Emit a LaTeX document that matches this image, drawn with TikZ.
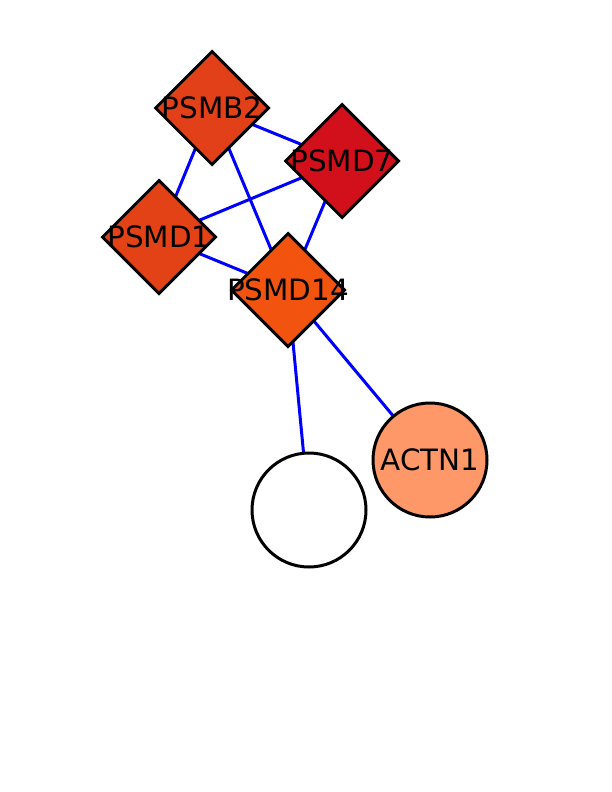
\documentclass[tikz,border=0pt]{standalone}
\usepackage{fontspec}
\setmainfont{DejaVu Sans}
\usepackage{tikz}
\usetikzlibrary{shapes}
\usetikzlibrary{positioning}
\usetikzlibrary{backgrounds}

\definecolor{psmbtwo}{RGB}{226,64,24}
\definecolor{psmdone}{RGB}{226,66,22}
\definecolor{psmdseven}{RGB}{210,16,28}
\definecolor{psmdfourteen}{RGB}{242,84,16}
\definecolor{actnone}{RGB}{255,152,104}

\tikzset{
  gene/.style={draw, diamond, aspect=1, line width=3bp, inner sep=0pt,
    minimum width=114bp, minimum height=114bp},
  hub/.style={draw, circle, line width=3bp, inner sep=0pt, minimum size=114bp},
  genetext/.style={font=\fontsize{29.5}{32}\selectfont},
  link/.style={draw=blue, line width=3bp}
}

\begin{document}
\begin{tikzpicture}[x=1bp, y=-1bp]

        \useasboundingbox (0,0) rectangle (612,792);
        %Nodes
          \node [gene, fill=psmbtwo, label={[genetext]center:PSMB2}] (psmb2) at (212,108) {};
          \node [gene, fill=psmdseven, label={[genetext]center:PSMD7}] (psmd7) at (342,161) {};
          \node [gene, fill=psmdone, label={[genetext]center:PSMD1}] (psmd1) at (159,237) {};
          \node [gene, fill=psmdfourteen, label={[genetext]center:PSMD14}] (psmd14) at (288,290) {};

          \node [hub, fill=actnone, label={[genetext]center:ACTN1}] (actn1) at (430,460) {};
          \node [hub, fill=white] (blank) at (309,510) {};

        %Edges
        \begin{pgfonlayer}{background}
          \draw [link] (psmb2.center) -- (psmd7.center);
          \draw [link] (psmb2.center) -- (psmd1.center);
          \draw [link] (psmb2.center) -- (psmd14.center);
          \draw [link] (psmd7.center) -- (psmd1.center);
          \draw [link] (psmd7.center) -- (psmd14.center);
          \draw [link] (psmd1.center) -- (psmd14.center);

          \draw [link] (psmd14.center) -- (blank.center);
          \draw [link] (psmd14.center) -- (actn1.center);
        \end{pgfonlayer}
\end{tikzpicture}
\end{document}
